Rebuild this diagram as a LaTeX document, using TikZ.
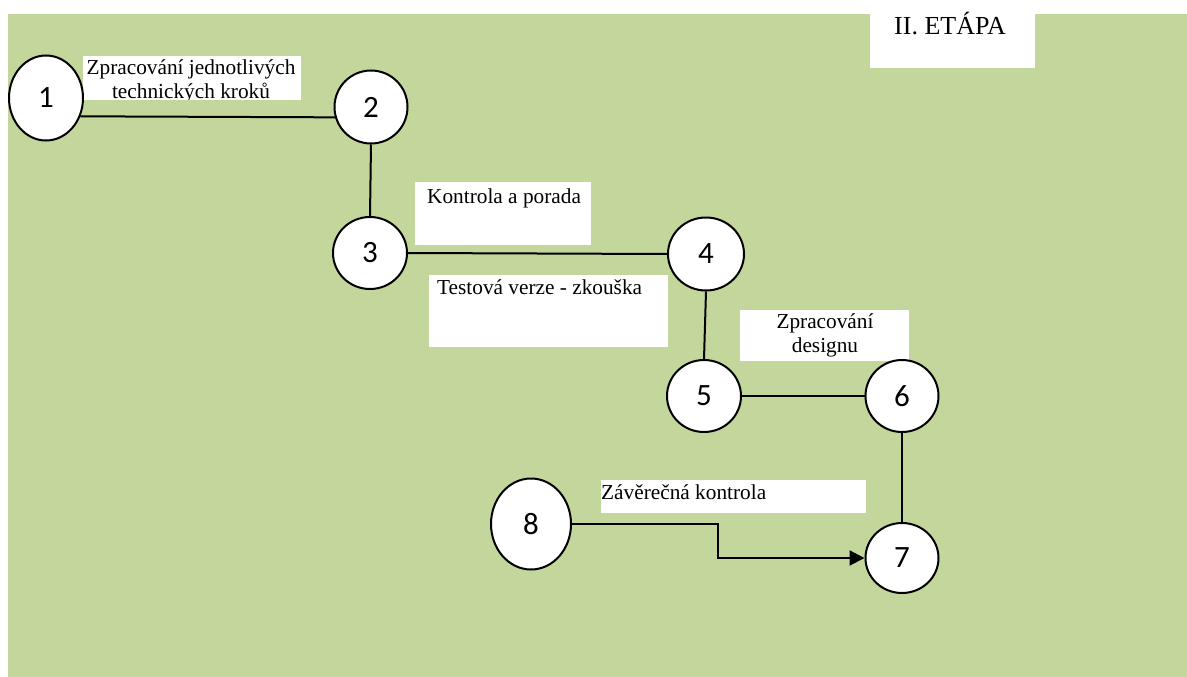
\documentclass[tikz,border=0pt]{standalone}
\usepackage{fontspec}
\setmainfont{Liberation Serif}
\newfontfamily\digitfont{Carlito}
\usetikzlibrary{shapes.geometric,arrows.meta}
\definecolor{bggreen}{RGB}{195,214,155}
\tikzset{
  evt/.style={ellipse, draw=black, line width=2pt, fill=white, inner sep=0pt,
    font=\digitfont\fontsize{31}{32}\selectfont},
  conn/.style={line width=2pt, draw=black},
  labbox/.style={fill=white, draw=none},
  lab/.style={inner sep=0pt, font=\fontsize{21.3}{24}\selectfont},
}
\begin{document}
\begin{tikzpicture}[x=1pt,y=-1pt]
\useasboundingbox (0,0) rectangle (1187,677);
\fill[white] (0,0) rectangle (1187,677);
\fill[bggreen] (8,14) rectangle (1187,677);

% label boxes
\fill[labbox] (870,0) rectangle (1035,68);
\node[lab, anchor=base west, font=\fontsize{26}{28}\selectfont] (title) at (894,35) {II. ETÁPA};

\begin{scope}
\clip (83,56) rectangle (301,100);
\fill[labbox] (83,56) rectangle (301,100);
\node[lab, anchor=base] (l12a) at (191,75) {Zpracování jednotlivých};
\node[lab, anchor=base] (l12b) at (191,99) {technických kroků};
\end{scope}

\fill[labbox] (415,182) rectangle (591,245);
\node[lab, anchor=base west] (l34) at (427,203) {Kontrola a porada};

\fill[labbox] (429,275) rectangle (668,347);
\node[lab, anchor=base west] (l45) at (437,294) {Testová verze - zkouška};

\fill[labbox] (740,310) rectangle (909,361);
\node[lab, anchor=base] (l56a) at (825,328) {Zpracování};
\node[lab, anchor=base] (l56b) at (825,352) {designu};

\fill[labbox] (601,480) rectangle (866,513);
\node[lab, anchor=base west] (l87) at (601,499) {Závěrečná kontrola};

% event nodes
\node[evt, minimum width=74pt, minimum height=85pt] (n1) at (46,98) {1};
\node[evt, minimum width=73pt, minimum height=73pt] (n2) at (371,107) {2};
\node[evt, minimum width=74pt, minimum height=72pt] (n3) at (370,253) {3};
\node[evt, minimum width=76pt, minimum height=73pt] (n4) at (706,254) {4};
\node[evt, minimum width=74pt, minimum height=72pt] (n5) at (704,396) {5};
\node[evt, minimum width=73pt, minimum height=72pt] (n6) at (902,396) {6};
\node[evt, minimum width=73pt, minimum height=70pt] (n7) at (902,558) {7};
\node[evt, minimum width=80pt, minimum height=91pt] (n8) at (531,524) {8};

% connectors
\draw[conn] (n1.-28) -- (n2.196);
\draw[conn] (n2.south) -- (n3.north);
\draw[conn] (n3.east) -- (n4.west);
\draw[conn] (n4.south) -- (n5.north);
\draw[conn] (n5.east) -- (n6.west);
\draw[conn] (n6.south) -- (n7.north);
\coordinate (bend) at (718,524);
\draw[conn, -{Triangle[length=15pt,width=15pt]}] (n8.east) -- (bend) |- (n7.west);
\end{tikzpicture}
\end{document}
